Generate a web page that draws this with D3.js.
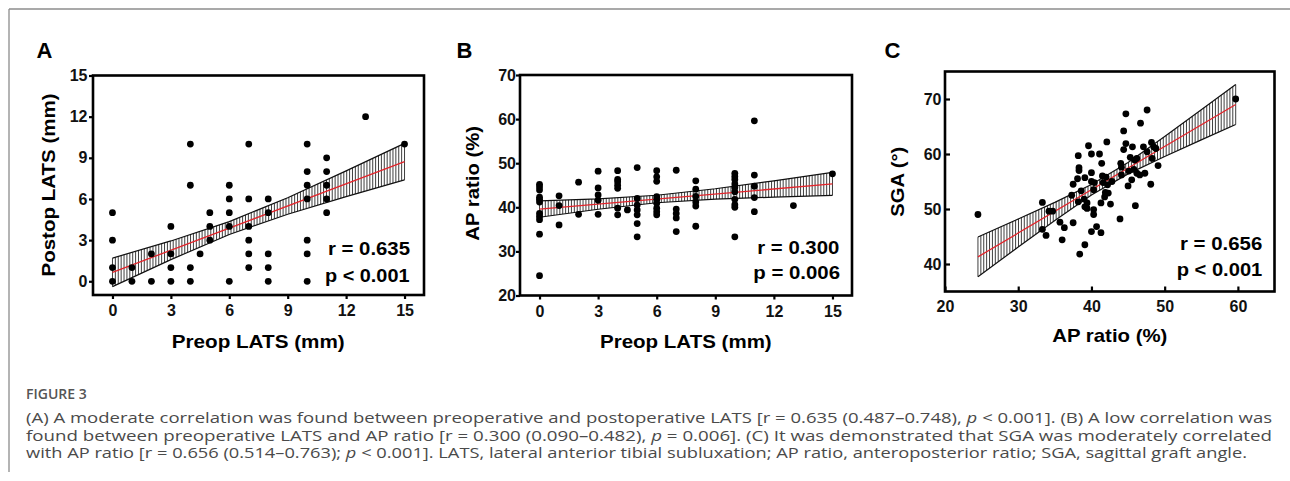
<!DOCTYPE html>
<html><head><meta charset="utf-8">
<script src="https://cdn.jsdelivr.net/npm/d3@7"></script>
<style>
body{margin:0;background:#fff;}
svg{display:block;}
.ax text{font-family:"Liberation Sans",Arial,sans-serif;font-weight:bold;font-size:16px;fill:#111;}
</style>
</head><body>
<svg id="fig" width="1290" height="481"></svg>
<script>
// ---------- Panel A: Preop LATS vs Postop LATS (mm) ----------
const preopA  = [0,0,0,0, 1,1, 2,2, 3,3,3,3, 4,4,4,4, 4.5, 5,5,5, 6,6,6,6,6, 7,7,7,7,7,7, 8,8,8,8,8, 10,10,10,10,10,10,10, 11,11,11,11,11, 13, 15];
const postopA = [5,3,1,0, 1,0, 2,0, 4,2,1,0, 10,7,1,0, 2, 5,4,3, 7,6,5,4,0, 10,6,4,3,2,1, 6,5,2,1,0, 10,8,7,6,3,2,0, 9,8,7,6,5, 12, 10];
const fitXA = [0, 15];
const fitYA = [0.65, 8.72];
const ciXA  = [0, 3, 6, 9, 12, 15];
const ciLoA = [-0.39, 1.58, 3.41, 4.89, 6.17, 7.39];
const ciHiA = [1.69, 2.94, 4.35, 6.09, 8.05, 10.05];
const ticksXA = [0, 3, 6, 9, 12, 15];
const ticksYA = [0, 3, 6, 9, 12, 15];

// ---------- Panel B: Preop LATS vs AP ratio (%) ----------
const preopB = [0,0,0,0,0,0,0,0,0,0,0, 1,1,1, 2,2, 3,3,3,3,3, 4,4,4,4,4,4,4, 4.5, 5,5,5,5,5,5,5,
  6,6,6,6,6,6,6,6,6, 7,7,7,7,7, 8,8,8,8,8,8, 10,10,10,10,10,10,10,10,10,10, 11,11,11,11,11, 13, 15];
const apB = [45.2,44.6,43.9,42.3,41.8,41.2,38.6,37.9,37.2,33.9,24.5, 42.6,40.4,36.0, 45.7,38.4,
  48.2,44.4,42.8,41.6,38.4, 48.3,46.3,45.8,45.0,44.3,39.8,38.3, 39.4, 49.0,42.0,40.5,39.4,38.3,36.3,33.3,
  48.3,46.9,45.9,42.4,41.7,40.9,39.8,39.0,38.3, 48.4,39.6,38.6,37.6,34.5, 46.0,44.1,42.5,41.2,40.3,35.7,
  47.7,47.0,46.3,45.3,44.5,43.5,41.8,40.6,40.0,33.3, 59.6,47.3,44.8,42.2,39.0, 40.4, 47.6];
const fitXB = [0, 15];
const fitYB = [39.6, 45.3];
const ciXB  = [0, 3, 6, 9, 12, 15];
const ciLoB = [37.75, 39.56, 41.03, 41.84, 42.31, 42.70];
const ciHiB = [41.45, 41.92, 42.73, 44.20, 46.01, 47.90];
const ticksXB = [0, 3, 6, 9, 12, 15];
const ticksYB = [20, 30, 40, 50, 60, 70];

// ---------- Panel C: AP ratio (%) vs SGA (deg) ----------
const apC  = [24.5,33.3,33.3,33.8,34.2,34.7,35.7,36.3,36.0,37.5,37.3,37.5,38.2,38.3,38.3,38.1,38.2,38.4,38.6,39.0,
  39.1,39.1,39.1,39.4,39.4,39.6,40.0,40.0,40.0,40.0,40.3,40.3,40.3,40.4,40.7,41.1,41.3,41.3,41.4,41.5,
  41.6,41.8,41.9,42.1,42.2,42.3,42.6,42.8,43.9,44.0,44.1,44.4,44.1,44.4,44.7,44.7,45.0,45.1,45.3,45.5,
  45.6,45.9,46.0,46.2,46.6,46.7,47.1,47.3,47.6,47.6,48.1,48.2,48.3,48.5,48.8,49.1,59.7,42.0,45.8,46.2];
const sgaC = [49.0,51.2,46.3,45.2,49.6,49.6,47.6,46.6,44.4,47.5,52.5,54.5,59.7,57.5,57.0,55.5,51.3,41.8,53.3,51.8,
  55.7,43.5,50.4,50.1,51.1,61.5,60.0,56.6,55.0,45.9,53.5,49.0,49.9,54.8,46.8,60.0,51.1,45.7,58.3,56.0,
  54.8,52.2,53.0,62.2,54.4,52.9,50.9,55.0,48.2,58.3,57.6,64.2,56.2,60.8,67.3,61.9,54.2,56.9,59.4,55.3,
  61.3,58.9,50.6,56.5,56.2,65.6,61.3,56.5,68.0,60.4,54.5,62.1,59.2,61.3,61.0,57.9,70.0,55.8,57.2,59.2];
const fitXC = [24.5, 59.7];
const fitYC = [41.3, 69.0];
const ciXC  = [24.5, 30, 35, 40, 45, 50, 55, 59.7];
const ciLoC = [37.70, 43.08, 47.92, 52.56, 56.39, 59.56, 62.57, 65.36];
const ciHiC = [44.90, 48.18, 51.20, 54.44, 58.47, 63.18, 68.03, 72.64];
const ticksXC = [20, 30, 40, 50, 60];
const ticksYC = [40, 50, 60, 70];

const captionLines = [
  ["(A) A moderate correlation was found between preoperative and postoperative LATS [r = 0.635 (0.487\u20130.748), ", ["p", true], " < 0.001]. (B) A low correlation was"],
  ["found between preoperative LATS and AP ratio [r = 0.300 (0.090\u20130.482), ", ["p", true], " = 0.006]. (C) It was demonstrated that SGA was moderately correlated"],
  ["with AP ratio [r = 0.656 (0.514\u20130.763); ", ["p", true], " < 0.001]. LATS, lateral anterior tibial subluxation; AP ratio, anteroposterior ratio; SGA, sagittal graft angle."]
];

const svg = d3.select("#fig");
const FONT = '"Liberation Sans", Arial, sans-serif';

// outer page lines
svg.append("line").attr("x1", 9).attr("x2", 1290).attr("y1", 9).attr("y2", 9).attr("stroke", "#8c8c8c").attr("stroke-width", 1.3);
svg.append("line").attr("x1", 9).attr("x2", 9).attr("y1", 9).attr("y2", 472).attr("stroke", "#8c8c8c").attr("stroke-width", 1.3);

function panel(c) {
  const x = d3.scaleLinear().domain(c.xDomain).range([c.left, c.right]);
  const y = d3.scaleLinear().domain(c.yDomain).range([c.bottom, c.top]);
  const g = svg.append("g");

  // confidence band (error-bar hatching)
  const lo = d3.scaleLinear().domain(c.ciX).range(c.ciLo);
  const hi = d3.scaleLinear().domain(c.ciX).range(c.ciHi);
  const x0 = c.ciX[0], x1 = c.ciX[c.ciX.length - 1];
  const n = Math.round((x(x1) - x(x0)) / 2.9);
  const hx = d3.range(n + 1).map(i => x0 + (x1 - x0) * i / n);
  g.append("g").selectAll("line").data(hx).join("line")
    .attr("x1", d => x(d)).attr("x2", d => x(d))
    .attr("y1", d => y(lo(d))).attr("y2", d => y(hi(d)))
    .attr("stroke", "#1c1c1c").attr("stroke-width", 0.85);
  const ln = d3.line().x(d => x(d[0])).y(d => y(d[1]));
  [c.ciLo, c.ciHi].forEach(arr => {
    g.append("path").attr("d", ln(c.ciX.map((d, i) => [d, arr[i]])))
      .attr("fill", "none").attr("stroke", "#111").attr("stroke-width", 1.2);
  });
  // fitted line
  g.append("path").attr("d", ln(c.fitX.map((d, i) => [d, c.fitY[i]])))
    .attr("fill", "none").attr("stroke", "#e3242b").attr("stroke-width", 1.3);

  // points
  g.append("g").selectAll("circle").data(c.xs.map((d, i) => [d, c.ys[i]])).join("circle")
    .attr("cx", d => x(d[0])).attr("cy", d => y(d[1])).attr("r", 3.4).attr("fill", "#000");

  // axes
  const ts = c.inward ? -5 : 4;
  const ax = g.append("g").attr("class", "ax").attr("transform", `translate(0,${c.bottom})`)
    .call(d3.axisBottom(x).tickValues(c.ticksX).tickSize(ts).tickSizeOuter(0).tickPadding(c.xPad));
  const ay = g.append("g").attr("class", "ax").attr("transform", `translate(${c.left},0)`)
    .call(d3.axisLeft(y).tickValues(c.ticksY).tickSize(ts).tickSizeOuter(0).tickPadding(c.yPad));
  [ax, ay].forEach(a => {
    a.select(".domain").remove();
    a.selectAll(".tick line").attr("stroke", "#000").attr("stroke-width", 2.2);
  });

  // frame
  g.append("rect").attr("x", c.left).attr("y", c.top)
    .attr("width", c.right - c.left).attr("height", c.bottom - c.top)
    .attr("fill", "none").attr("stroke", "#000").attr("stroke-width", 2.6);

  // panel letter
  g.append("text").attr("x", c.letterX).attr("y", 58).text(c.letter)
    .attr("font-family", FONT).attr("font-weight", "bold").attr("font-size", 22).attr("fill", "#000");

  // axis titles
  g.append("text").attr("x", c.xtX).attr("y", c.xtY).text(c.xTitle)
    .attr("textLength", c.xtLen).attr("lengthAdjust", "spacingAndGlyphs")
    .attr("font-family", FONT).attr("font-weight", "bold").attr("font-size", 18.5).attr("fill", "#000");
  g.append("text").attr("transform", `translate(${c.ytX},${c.ytY}) rotate(-90)`)
    .attr("x", -c.ytLen / 2).attr("y", 0).text(c.yTitle)
    .attr("textLength", c.ytLen).attr("lengthAdjust", "spacingAndGlyphs")
    .attr("font-family", FONT).attr("font-weight", "bold").attr("font-size", 18.5).attr("fill", "#000");

  // statistics
  c.stats.forEach(s => {
    g.append("text").attr("x", s[1]).attr("y", s[2]).text(s[0])
      .attr("textLength", s[3]).attr("lengthAdjust", "spacingAndGlyphs")
      .attr("font-family", FONT).attr("font-weight", "bold").attr("font-size", 18).attr("fill", "#000");
  });
}

panel({
  xs: preopA, ys: postopA, xDomain: [-1, 16], yDomain: [-1, 15],
  left: 93, right: 424, top: 75.5, bottom: 295,
  ciX: ciXA, ciLo: ciLoA, ciHi: ciHiA, fitX: fitXA, fitY: fitYA,
  ticksX: ticksXA, ticksY: ticksYA, inward: false, xPad: 6, yPad: 1.5,
  letter: "A", letterX: 36.5,
  xTitle: "Preop LATS (mm)", xtX: 171.7, xtY: 348, xtLen: 173,
  yTitle: "Postop LATS (mm)", ytX: 55, ytY: 185, ytLen: 183,
  stats: [["r = 0.635", 328, 255, 82], ["p < 0.001", 325, 281.5, 84.5]]
});
panel({
  xs: preopB, ys: apB, xDomain: [-1, 16], yDomain: [20, 70],
  left: 520, right: 852, top: 75, bottom: 295.5,
  ciX: ciXB, ciLo: ciLoB, ciHi: ciHiB, fitX: fitXB, fitY: fitYB,
  ticksX: ticksXB, ticksY: ticksYB, inward: false, xPad: 6, yPad: 0,
  letter: "B", letterX: 456.5,
  xTitle: "Preop LATS (mm)", xtX: 600, xtY: 348, xtLen: 171.7,
  yTitle: "AP ratio (%)", ytX: 479, ytY: 183.3, ytLen: 114.7,
  stats: [["r = 0.300", 757.3, 254, 82], ["p = 0.006", 753.3, 279.3, 86.7]]
});
panel({
  xs: apC, ys: sgaC, xDomain: [20, 65], yDomain: [35, 75],
  left: 945, right: 1274.5, top: 71.5, bottom: 291.5,
  ciX: ciXC, ciLo: ciLoC, ciHi: ciHiC, fitX: fitXC, fitY: fitYC,
  ticksX: ticksXC, ticksY: ticksYC, inward: true, xPad: 9, yPad: 3.5,
  letter: "C", letterX: 884.5,
  xTitle: "AP ratio (%)", xtX: 1052.3, xtY: 341.7, xtLen: 115,
  yTitle: "SGA (°)", ytX: 904, ytY: 181.7, ytLen: 70,
  stats: [["r = 0.656", 1180, 250, 82.3], ["p < 0.001", 1176.7, 276, 85.6]]
});

// caption
const CAP = '"Open Sans", "Noto Sans", sans-serif';
svg.append("text").attr("x", 26).attr("y", 399).text("FIGURE 3")
  .attr("font-family", CAP).attr("font-weight", 600).attr("font-size", 14).attr("fill", "#555");
const capY = [422.7, 440.5, 458.3];
const capLen = [1246, 1246, 1221];
captionLines.forEach((parts, i) => {
  const t = svg.append("text").attr("x", 26).attr("y", capY[i])
    .attr("textLength", capLen[i]).attr("lengthAdjust", "spacingAndGlyphs")
    .attr("font-family", CAP).attr("font-size", 14.5).attr("fill", "#4a4a4a");
  parts.forEach(p => {
    if (Array.isArray(p)) t.append("tspan").attr("font-style", "italic").text(p[0]);
    else t.append("tspan").text(p);
  });
});
</script>
</body></html>
